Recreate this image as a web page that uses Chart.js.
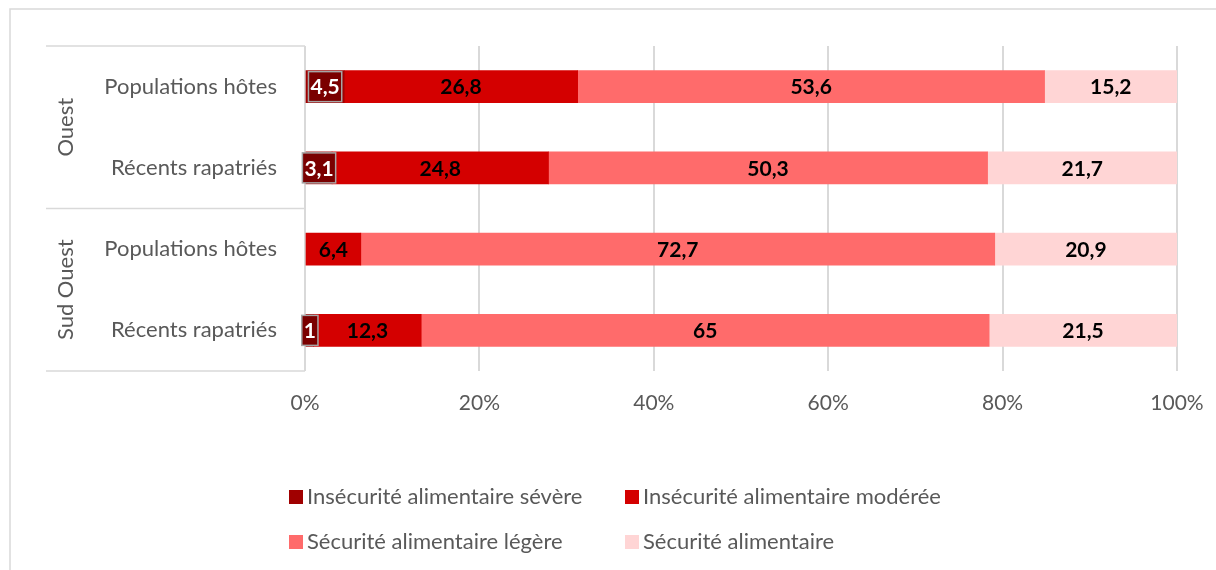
<!DOCTYPE html>
<html>
<head>
<meta charset="utf-8">
<script src="https://cdn.jsdelivr.net/npm/chart.js@4"></script>
<style>
  html, body { margin: 0; padding: 0; background: #fff; }
  #wrap { position: relative; width: 1216px; height: 570px; }
</style>
</head>
<body>
<div id="wrap"><canvas id="foodChart" width="1216" height="570"></canvas></div>
<script>
// Data
const groups = ['Ouest', 'Sud Ouest'];
const categories = ['Populations hôtes', 'Récents rapatriés', 'Populations hôtes', 'Récents rapatriés'];
const seriesNames = ['Insécurité alimentaire sévère', 'Insécurité alimentaire modérée', 'Sécurité alimentaire légère', 'Sécurité alimentaire'];
const severe = [4.5, 3.1, null, 1];
const moderate = [26.8, 24.8, 6.4, 12.3];
const legere = [53.6, 50.3, 72.7, 65];
const secure = [15.2, 21.7, 20.9, 21.5];
const xTicks = [0, 20, 40, 60, 80, 100];

const colors = ['#A00000', '#D40000', '#FF6B6B', '#FFD5D5'];
const FONT = 'Lato, "Open Sans", sans-serif';
const GREY = '#595959';

const allSeries = [severe, moderate, legere, secure];
// 100% stacked: normalise each row
const totals = categories.map((_, i) => allSeries.reduce((s, arr) => s + (arr[i] || 0), 0));

const datasets = allSeries.map((arr, k) => ({
    label: seriesNames[k],
    data: arr.map((v, i) => v == null ? null : v / totals[i] * 100),
    raw: arr,
    backgroundColor: colors[k],
    borderWidth: 0,
    barThickness: 32
}));

// Value labels on each segment
const labelPlugin = {
    id: 'segLabels',
    afterDatasetsDraw(chart) {
        const ctx = chart.ctx;
        ctx.save();
        ctx.font = 'bold 21px ' + FONT;
        ctx.textAlign = 'center';
        ctx.textBaseline = 'middle';
        chart.data.datasets.forEach((ds, k) => {
            const meta = chart.getDatasetMeta(k);
            meta.data.forEach((el, i) => {
                const v = ds.raw[i];
                if (v == null) return;
                const txt = String(v).replace('.', ',');
                const cx = (el.x + el.base) / 2;
                const cy = el.y;
                if (k === 0) {
                    const w = ctx.measureText(txt).width + 4;
                    ctx.fillStyle = '#7A0000';
                    ctx.fillRect(cx - w / 2, cy - 15, w, 30);
                    ctx.strokeStyle = '#A6A6A6';
                    ctx.lineWidth = 1.5;
                    ctx.strokeRect(cx - w / 2, cy - 15, w, 30);
                    ctx.fillStyle = '#ffffff';
                } else {
                    ctx.fillStyle = '#000000';
                }
                ctx.fillText(txt, cx, cy + 1);
            });
        });
        ctx.restore();
    }
};

// Category axis with group labels, frame and legend
const decorPlugin = {
    id: 'decor',
    afterDraw(chart) {
        const ctx = chart.ctx;
        const ys = chart.scales.y;
        const area = chart.chartArea;
        ctx.save();

        // outer frame
        ctx.strokeStyle = '#D9D9D9';
        ctx.lineWidth = 1.5;
        ctx.beginPath();
        ctx.moveTo(10, 570);
        ctx.lineTo(10, 9);
        ctx.lineTo(1216, 9);
        ctx.stroke();

        // category box lines
        const step = (area.bottom - area.top) / categories.length;
        ctx.lineWidth = 1.5;
        [0, 2, 4].forEach(n => {
            const y = area.top + n * step;
            ctx.beginPath();
            ctx.moveTo(46, y);
            ctx.lineTo(area.left, y);
            ctx.stroke();
        });

        // category labels
        ctx.fillStyle = GREY;
        ctx.font = '22px ' + FONT;
        ctx.textAlign = 'right';
        ctx.textBaseline = 'middle';
        categories.forEach((c, i) => {
            ctx.fillText(c, 277, ys.getPixelForValue(i));
        });

        // group labels (rotated)
        ctx.textAlign = 'center';
        groups.forEach((g, gi) => {
            const yc = (ys.getPixelForValue(gi * 2) + ys.getPixelForValue(gi * 2 + 1)) / 2;
            ctx.save();
            ctx.translate(66, yc);
            ctx.rotate(-Math.PI / 2);
            ctx.fillText(g, 0, 0);
            ctx.restore();
        });

        // legend
        const pos = [[289, 497], [625, 497], [289, 542], [625, 542]];
        ctx.textAlign = 'left';
        seriesNames.forEach((name, k) => {
            const [x, y] = pos[k];
            ctx.fillStyle = colors[k];
            ctx.fillRect(x, y - 7, 14, 14);
            ctx.fillStyle = GREY;
            ctx.fillText(name, x + 18, y);
        });
        ctx.restore();
    }
};

new Chart(document.getElementById('foodChart'), {
    type: 'bar',
    data: { labels: categories, datasets: datasets },
    options: {
        indexAxis: 'y',
        responsive: false,
        animation: false,
        layout: { padding: { left: 305, right: 39, top: 46, bottom: 159 } },
        scales: {
            x: {
                stacked: true,
                min: 0,
                max: 100,
                afterBuildTicks: (scale) => { scale.ticks = xTicks.map(v => ({ value: v })); },
                afterFit: (scale) => {
                    scale.height = 40;
                    scale.paddingLeft = 0;
                    scale.paddingRight = 0;
                },
                ticks: {
                    callback: (v) => v + '%',
                    color: GREY,
                    font: { size: 21, family: FONT },
                    padding: 20,
                    maxRotation: 0
                },
                grid: { color: '#D9D9D9', lineWidth: 2, drawTicks: false },
                border: { display: false }
            },
            y: {
                stacked: true,
                display: false
            }
        },
        plugins: {
            legend: { display: false },
            tooltip: { enabled: false }
        }
    },
    plugins: [labelPlugin, decorPlugin]
});
</script>
</body>
</html>
